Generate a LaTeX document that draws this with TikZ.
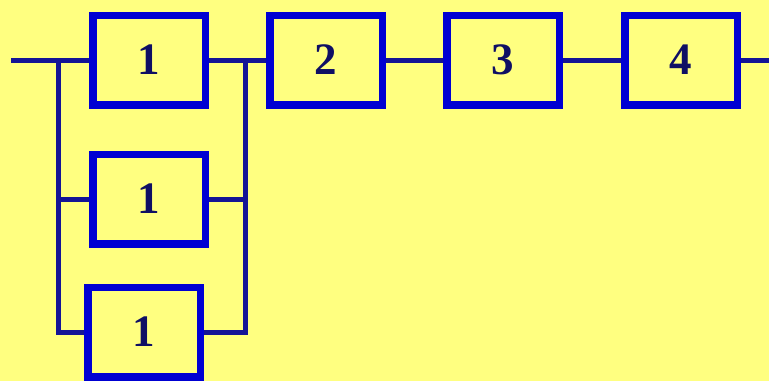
\documentclass[tikz,border=0pt]{standalone}
\usepackage{fontspec}
\setmainfont{Liberation Serif}
\usepackage{xcolor}
\usepackage{tikz}
\definecolor{paper}{RGB}{255,255,128}
\definecolor{boxblue}{RGB}{0,0,210}
\definecolor{wireblue}{RGB}{20,20,150}
\definecolor{digit}{RGB}{15,15,100}

\begin{document}
\begin{tikzpicture}[x=1pt,y=-1pt,
    block/.style={rectangle,draw=boxblue,line width=7.5pt,minimum width=112.5pt,
      minimum height=89.5pt,inner sep=0pt,font=\fontsize{45}{45}\selectfont\bfseries,
      text=digit},
    wire/.style={draw=wireblue,line width=5pt}]
    \fill [paper] (0,0) rectangle (769,381);
    \useasboundingbox (0,0) rectangle (769,381);
    % redundant group of three
    \node [block] (a1) at (149,60) {1};
    \node [block] (b1) at (149,199) {1};
    \node [block] (c1) at (144,332) {1};
    % series part
    \node [block] (u2) at (326,60) {2};
    \node [block] (u3) at (503,60) {3};
    \node [block] (u4) at (681,60) {4};
    \coordinate (in) at (11,60);
    \coordinate (split) at (58,60);
    \coordinate (join) at (245,60);
    \coordinate (out) at (771,60);
    \draw [wire] (in) -- (a1.west);
    \draw [wire] (split) |- (c1.west);
    \draw [wire] (split |- b1.west) -- (b1.west);
    \draw [wire] (a1.east) -- (u2.west);
    \draw [wire] (join) |- (c1.east);
    \draw [wire] (b1.east) -- (join |- b1.east);
    \draw [wire] (u2.east) -- (u3.west);
    \draw [wire] (u3.east) -- (u4.west);
    \draw [wire] (u4.east) -- (out);
\end{tikzpicture}
\end{document}
